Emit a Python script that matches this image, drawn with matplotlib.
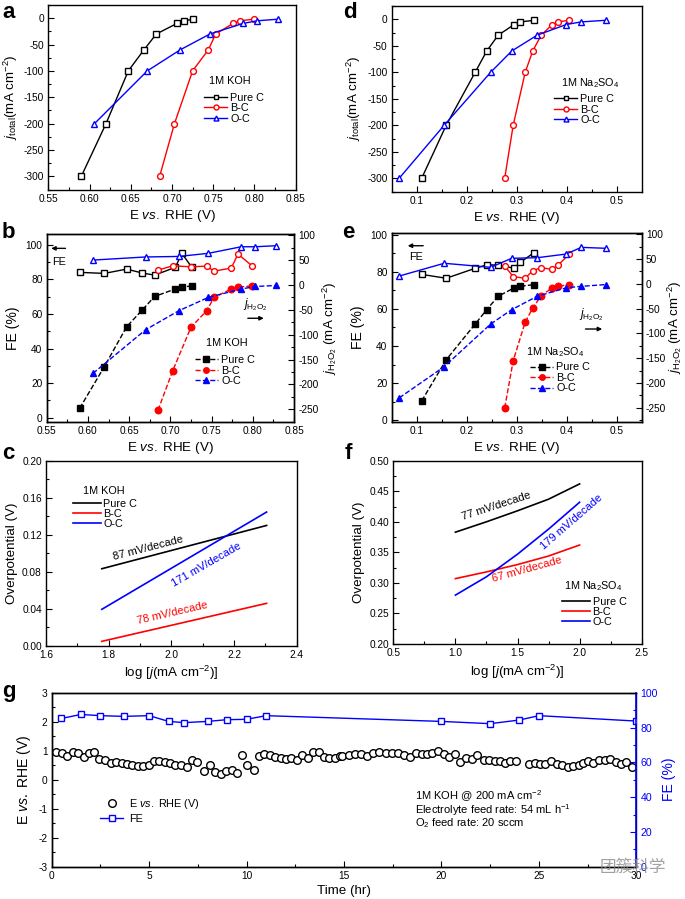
import numpy as np
import matplotlib
matplotlib.use("Agg")
import matplotlib.pyplot as plt
from matplotlib.ticker import MultipleLocator, FormatStrFormatter
from matplotlib.lines import Line2D

plt.rcParams['font.family'] = ['Liberation Sans', 'DejaVu Sans']
plt.rcParams['mathtext.fontset'] = 'custom'
plt.rcParams['mathtext.rm'] = 'Liberation Sans'
plt.rcParams['mathtext.it'] = 'Liberation Sans:italic'
plt.rcParams['mathtext.bf'] = 'Liberation Sans:bold'
plt.rcParams['axes.unicode_minus'] = False
plt.rcParams['axes.linewidth'] = 1.0

# ---- 1M KOH polarisation / FE data (panels a, b) ----
koh_E_pure = [0.590, 0.620, 0.647, 0.666, 0.681, 0.706, 0.714, 0.726]
koh_E_b = [0.685, 0.703, 0.725, 0.744, 0.753, 0.774, 0.782, 0.799]
koh_E_o = [0.606, 0.670, 0.710, 0.746, 0.786, 0.803, 0.828]
koh_j_pure = [-300, -200, -100, -60, -30, -10, -5, -2]
koh_j_b = [-300, -200, -100, -60, -30, -10, -5, -2]
koh_j_o = [-200, -100, -60, -30, -10, -5, -2]
koh_fe_pure = [84.0, 83.4, 85.9, 83.6, 82.4, 86.9, 95.0, 86.9]
koh_fe_b = [85.3, 87.8, 87.2, 87.6, 84.7, 86.5, 94.6, 87.8]
koh_fe_o = [91.1, 92.9, 93.2, 95.0, 98.8, 98.8, 99.4]
koh_jh_pure = [-248, -164, -84, -50, -23, -8, -4, -2]
koh_jh_b = [-252, -172, -85, -52, -25, -8, -4, -2]
koh_jh_o = [-178, -90, -52, -25, -8, -3, -1]

# ---- 1M Na2SO4 data (panels d, e) ----
na_E_pure = [0.110, 0.159, 0.217, 0.240, 0.263, 0.295, 0.307, 0.335]
na_E_b = [0.276, 0.293, 0.317, 0.332, 0.349, 0.371, 0.383, 0.405]
na_E_o = [0.065, 0.155, 0.248, 0.290, 0.341, 0.399, 0.429, 0.478]
na_j_pure = [-300, -200, -100, -60, -30, -10, -5, -2]
na_j_b = [-300, -200, -100, -60, -30, -10, -5, -2]
na_j_o = [-300, -200, -100, -60, -30, -10, -5, -2]
na_fe_pure = [78.7, 76.6, 82.0, 83.8, 83.8, 82.0, 85.2, 90.5]
na_fe_b = [83.2, 77.5, 76.6, 80.7, 82.3, 81.4, 83.8, 89.5]
na_fe_o = [77.8, 84.7, 82.5, 87.4, 87.7, 89.7, 93.3, 92.8]
na_jh_pure = [-236, -153, -81, -52, -25, -8, -5, -1.4]
na_jh_b = [-250, -155, -77, -49, -24, -8, -5, -1.4]
na_jh_o = [-230, -167, -81, -52, -25, -8, -5, -1.4]

# ---- Tafel data (panels c, f) ----
koh_logj = [1.778, 2.304]
koh_eta_pure = [0.0832, 0.130]
koh_eta_b = [0.0047, 0.0458]
koh_eta_o = [0.0393, 0.1445]

na_logj = [1.0, 1.25, 1.5, 1.75, 2.0]
na_eta_pure = [0.383, 0.400, 0.418, 0.437, 0.462]
na_eta_b = [0.307, 0.318, 0.330, 0.344, 0.362]
na_eta_o = [0.280, 0.310, 0.347, 0.388, 0.432]

# ---- stability test (panel g) ----
t_E = [0.22, 0.51, 0.80, 1.08, 1.37, 1.64, 1.90, 2.19, 2.45, 2.76, 3.05, 3.32,
       3.60, 3.87, 4.14, 4.42, 4.67, 4.98, 5.26, 5.51, 5.79, 6.06, 6.34, 6.61,
       6.93, 7.19, 7.48, 7.84, 8.13, 8.39, 8.68, 8.94, 9.23, 9.52, 9.79, 10.03,
       10.36, 10.63, 10.91, 11.18, 11.47, 11.75, 12.02, 12.29, 12.57, 12.86,
       13.13, 13.41, 13.70, 13.97, 14.25, 14.52, 14.79,
       14.91, 15.26, 15.55, 15.87, 16.19, 16.50, 16.79, 17.13, 17.47, 17.76,
       18.07, 18.38, 18.67, 19.01, 19.28, 19.52, 19.81, 20.12, 20.38, 20.68,
       20.96, 21.28, 21.59, 21.84, 22.17, 22.46, 22.75, 23.02, 23.26, 23.53,
       23.84, 24.49, 24.78, 25.07, 25.32, 25.63, 25.92, 26.21, 26.48, 26.77,
       27.05, 27.25, 27.51, 27.80, 28.11, 28.40, 28.67, 28.94, 29.22, 29.45,
       29.76]
E_stab = [0.95, 0.92, 0.83, 0.97, 0.91, 0.80, 0.93, 0.94, 0.72, 0.67, 0.56, 0.60,
          0.57, 0.54, 0.51, 0.47, 0.46, 0.51, 0.64, 0.64, 0.60, 0.56, 0.49, 0.49,
          0.43, 0.68, 0.62, 0.31, 0.51, 0.28, 0.18, 0.31, 0.33, 0.24, 0.84, 0.51,
          0.33, 0.82, 0.87, 0.84, 0.79, 0.74, 0.70, 0.74, 0.67, 0.85,
          0.74, 0.94, 0.97, 0.79, 0.76, 0.76, 0.82,
          0.83, 0.85, 0.87, 0.87, 0.83, 0.93, 0.97, 0.91, 0.91, 0.91,
          0.84, 0.79, 0.91, 0.89, 0.89, 0.91, 0.99, 0.87, 0.77, 0.87,
          0.62, 0.74, 0.70, 0.85, 0.68, 0.68, 0.66, 0.66, 0.59, 0.66,
          0.66, 0.54, 0.59, 0.54, 0.54, 0.66, 0.54, 0.49, 0.45, 0.47,
          0.51, 0.56, 0.66, 0.56, 0.68, 0.68, 0.70, 0.62, 0.54, 0.62,
          0.45]
t_fe = [0.5, 1.5, 2.5, 3.7, 5.0, 6.0, 6.8, 8.0, 9.0, 10.0, 11.0, 20.0, 22.5, 24.0, 25.0, 30.0]
fe_stab = [85.2, 87.5, 86.8, 86.4, 86.8, 83.5, 82.8, 83.5, 84.5, 84.7, 86.8, 83.5, 82.2, 84.3, 86.8, 83.7]

labels = ['Pure C', 'B-C', 'O-C']
colors = ['black', 'red', 'blue']
markers = ['s', 'o', '^']

W, H = 685, 899
TICK_FS = 7.3
LAB_FS = 9.6
LEG_FS = 7.8
MS = 4.2


def box(l, r, t, b):
    return [l / W, 1 - b / H, (r - l) / W, (b - t) / H]


def style(ax, xmaj, xmin, ymaj, ymin, xfmt, yfmt):
    ax.xaxis.set_major_locator(MultipleLocator(xmaj))
    ax.xaxis.set_minor_locator(MultipleLocator(xmin))
    ax.yaxis.set_major_locator(MultipleLocator(ymaj))
    ax.yaxis.set_minor_locator(MultipleLocator(ymin))
    ax.xaxis.set_major_formatter(FormatStrFormatter(xfmt))
    ax.yaxis.set_major_formatter(FormatStrFormatter(yfmt))
    ax.tick_params(which='both', direction='in', labelsize=TICK_FS, width=0.8, pad=3)
    ax.tick_params(which='major', length=4)
    ax.tick_params(which='minor', length=2.5)


def small_legend(ax, handles, anchor):
    ax.legend(handles, labels, loc='upper left', bbox_to_anchor=anchor, frameon=False, fontsize=LEG_FS,
              handlelength=2.1, handletextpad=0.3, labelspacing=0.05, borderpad=0, borderaxespad=0,
              markerscale=0.85)


fig = plt.figure(figsize=(6.85, 8.99), dpi=100)

xlab = 'E $\\it{vs.}$ RHE (V)'
jlab = '$\\it{j}_{\\rm total}$(mA cm$^{-2}$)'
jhlab = '$\\it{j}_{\\rm H_2O_2}$ (mA cm$^{-2}$)'

# ---------------- a ----------------
ax = fig.add_axes(box(48.3, 295.7, 5, 189.5))
hs = []
for E, j, c, m in zip([koh_E_pure, koh_E_b, koh_E_o], [koh_j_pure, koh_j_b, koh_j_o], colors, markers):
    hs += ax.plot(E, j, color=c, marker=m, mfc='white', mec=c, ms=MS, lw=1)
ax.set_xlim(0.55, 0.85)
ax.set_ylim(-325, 25)
style(ax, 0.05, 0.025, 50, 25, '%.2f', '%d')
ax.set_xlabel(xlab, fontsize=LAB_FS, labelpad=3)
ax.set_ylabel(jlab, fontsize=LAB_FS, labelpad=3)
ax.text(0.734, 0.588, '1M KOH', transform=ax.transAxes, fontsize=LEG_FS, ha='center', va='center')
small_legend(ax, hs, (0.63, 0.525))

# ---------------- d ----------------
ax = fig.add_axes(box(391.7, 641.7, 6, 191.5))
hs = []
for E, j, c, m in zip([na_E_pure, na_E_b, na_E_o], [na_j_pure, na_j_b, na_j_o], colors, markers):
    hs += ax.plot(E, j, color=c, marker=m, mfc='white', mec=c, ms=MS, lw=1)
ax.set_xlim(0.05, 0.55)
ax.set_ylim(-325, 25)
style(ax, 0.1, 0.05, 50, 25, '%.1f', '%d')
ax.set_xlabel(xlab, fontsize=LAB_FS, labelpad=3)
ax.set_ylabel(jlab, fontsize=LAB_FS, labelpad=3)
ax.text(0.793, 0.587, '1M Na$_2$SO$_4$', transform=ax.transAxes, fontsize=LEG_FS, ha='center', va='center')
small_legend(ax, hs, (0.65, 0.525))


def fe_panel(rect, Es, fes, jhs, xlim, ylim_l, ylim_r, xmaj, xmin, xfmt, salt, pos, rpad):
    ax = fig.add_axes(rect)
    ax2 = ax.twinx()
    for E, fe, jh, c, m in zip(Es, fes, jhs, colors, markers):
        ax.plot(E, fe, color=c, marker=m, mfc='white', mec=c, ms=MS, lw=1)
        ax2.plot(E, jh, color=c, marker=m, mfc=c, mec=c, ms=MS + 0.5, lw=1, ls='--')
    ax.set_xlim(*xlim)
    ax.set_ylim(*ylim_l)
    ax2.set_ylim(*ylim_r)
    style(ax, xmaj, xmin, 20, 10, xfmt, '%d')
    ax2.yaxis.set_major_locator(MultipleLocator(50))
    ax2.yaxis.set_minor_locator(MultipleLocator(25))
    ax2.tick_params(which='both', direction='in', labelsize=TICK_FS, width=0.8, pad=3)
    ax2.tick_params(which='major', length=4)
    ax2.tick_params(which='minor', length=2.5)
    ax.set_xlabel(xlab, fontsize=LAB_FS, labelpad=3)
    ax.set_ylabel('FE (%)', fontsize=LAB_FS + 0.5, labelpad=4)
    ax2.set_ylabel(jhlab, fontsize=LAB_FS, labelpad=rpad)
    fa = pos['fe_arrow']
    ax.annotate('', xy=(fa[1], fa[2]), xytext=(fa[0], fa[2]), xycoords='axes fraction',
                arrowprops=dict(arrowstyle='-|>', color='k', lw=1, mutation_scale=6))
    ax.text(*pos['fe_text'], 'FE', transform=ax.transAxes, fontsize=LEG_FS, ha='center', va='center')
    ja = pos['j_arrow']
    ax.annotate('', xy=(ja[1], ja[2]), xytext=(ja[0], ja[2]), xycoords='axes fraction',
                arrowprops=dict(arrowstyle='-|>', color='k', lw=1, mutation_scale=6))
    ax.text(*pos['j_text'], '$\\it{j}_{\\rm H_2O_2}$', transform=ax.transAxes, fontsize=LEG_FS + 0.7,
            ha='center', va='center')
    ax.text(*pos['salt'], salt, transform=ax.transAxes, fontsize=LEG_FS, ha='center', va='center')
    handles = [Line2D([], [], color=c, marker=m, mfc=c, mec=c, ms=MS + 0.5, lw=1, ls='--')
               for c, m in zip(colors, markers)]
    small_legend(ax, handles, pos['leg'])
    return ax


# ---------------- b ----------------
fe_panel(box(46.7, 294, 234.3, 421.7), [koh_E_pure, koh_E_b, koh_E_o],
         [koh_fe_pure, koh_fe_b, koh_fe_o], [koh_jh_pure, koh_jh_b, koh_jh_o],
         (0.55, 0.85), (-2.3, 106), (-275, 102), 0.05, 0.025, '%.2f', '1M KOH',
         dict(fe_arrow=(0.087, 0.007, 0.925), fe_text=(0.05, 0.853),
              j_arrow=(0.802, 0.889, 0.552), j_text=(0.842, 0.622),
              salt=(0.728, 0.418), leg=(0.60, 0.355)), 1)

# ---------------- e ----------------
fe_panel(box(391.7, 641.7, 233.3, 421.7), [na_E_pure, na_E_b, na_E_o],
         [na_fe_pure, na_fe_b, na_fe_o], [na_jh_pure, na_jh_b, na_jh_o],
         (0.05, 0.55), (-0.9, 100.9), (-278, 102), 0.1, 0.05, '%.1f', '1M Na$_2$SO$_4$',
         dict(fe_arrow=(0.137, 0.053, 0.934), fe_text=(0.097, 0.876),
              j_arrow=(0.764, 0.853, 0.492), j_text=(0.80, 0.566),
              salt=(0.653, 0.368), leg=(0.555, 0.315)), -0.5)

# ---------------- c ----------------
ax = fig.add_axes(box(46, 296.7, 460.7, 645.7))
hs = []
for y, c in zip([koh_eta_pure, koh_eta_b, koh_eta_o], colors):
    hs += ax.plot(koh_logj, y, color=c, lw=1.2)
ax.set_xlim(1.6, 2.4)
ax.set_ylim(0, 0.2)
style(ax, 0.2, 0.1, 0.04, 0.02, '%.1f', '%.2f')
ax.set_xlabel('log [$\\it{j}$(mA cm$^{-2}$)]', fontsize=LAB_FS, labelpad=3)
ax.set_ylabel('Overpotential (V)', fontsize=LAB_FS, labelpad=3)
ax.text(0.229, 0.838, '1M KOH', transform=ax.transAxes, fontsize=LEG_FS, ha='center', va='center')
ax.legend(hs, labels, loc='upper left', bbox_to_anchor=(0.108, 0.795), frameon=False, fontsize=LEG_FS,
          handlelength=2.6, handletextpad=0.2, labelspacing=0.0, borderpad=0, borderaxespad=0)
ax.text(1.927, 0.106, '87 mV/decade', color='black', fontsize=8, rotation=14.5, ha='center', va='center')
ax.text(2.113, 0.0872, '171 mV/decade', color='blue', fontsize=8, rotation=30, ha='center', va='center')
ax.text(2.004, 0.035, '78 mV/decade', color='red', fontsize=8, rotation=13, ha='center', va='center')

# ---------------- f ----------------
ax = fig.add_axes(box(393.3, 641.7, 460.7, 644))
hs = []
for y, c in zip([na_eta_pure, na_eta_b, na_eta_o], colors):
    hs += ax.plot(na_logj, y, color=c, lw=1.2)
ax.set_xlim(0.5, 2.5)
ax.set_ylim(0.2, 0.5)
style(ax, 0.5, 0.25, 0.05, 0.025, '%.1f', '%.2f')
ax.set_xlabel('log [$\\it{j}$(mA cm$^{-2}$)]', fontsize=LAB_FS, labelpad=3)
ax.set_ylabel('Overpotential (V)', fontsize=LAB_FS, labelpad=3)
ax.text(0.805, 0.316, '1M Na$_2$SO$_4$', transform=ax.transAxes, fontsize=LEG_FS, ha='center', va='center')
ax.legend(hs, labels, loc='upper left', bbox_to_anchor=(0.68, 0.255), frameon=False, fontsize=LEG_FS,
          handlelength=2.6, handletextpad=0.2, labelspacing=0.0, borderpad=0, borderaxespad=0)
ax.text(1.332, 0.4264, '77 mV/decade', color='black', fontsize=8, rotation=18, ha='center', va='center')
ax.text(1.936, 0.400, '179 mV/decade', color='blue', fontsize=8, rotation=41, ha='center', va='center')
ax.text(1.579, 0.322, '67 mV/decade', color='red', fontsize=8, rotation=15.5, ha='center', va='center')

# ---------------- g ----------------
ax = fig.add_axes(box(51.7, 636.3, 692.7, 866.7))
ax2 = ax.twinx()
ax.plot(t_E, E_stab, ls='none', marker='o', mfc='white', mec='black', ms=5.5, mew=1.0)
ax2.plot(t_fe, fe_stab, color='blue', marker='s', mfc='white', mec='blue', ms=5, lw=1)
ax.set_xlim(0, 30)
ax.set_ylim(-3, 3)
ax2.set_ylim(0, 100)
style(ax, 5, 2.5, 1, 0.5, '%d', '%d')
ax2.yaxis.set_major_locator(MultipleLocator(20))
ax2.yaxis.set_minor_locator(MultipleLocator(10))
ax2.tick_params(which='both', direction='in', labelsize=TICK_FS + 0.3, width=0.8, colors='blue', pad=3)
ax2.tick_params(which='major', length=4)
ax2.tick_params(which='minor', length=2.5)
ax2.spines['right'].set_color('blue')
ax2.spines['right'].set_linewidth(1.2)
ax.set_xlabel('Time (hr)', fontsize=LAB_FS, labelpad=3)
ax.set_ylabel('E $\\it{vs.}$ RHE (V)', fontsize=LAB_FS + 0.5, labelpad=4)
ax2.set_ylabel('FE (%)', fontsize=LAB_FS + 0.5, color='blue', labelpad=3)
handles = [Line2D([], [], ls='none', marker='o', mfc='white', mec='black', ms=5.5),
           Line2D([], [], color='blue', marker='s', mfc='white', mec='blue', ms=5, lw=1)]
ax.legend(handles, ['E $\\it{vs.}$ RHE (V)', 'FE'], loc='upper left', bbox_to_anchor=(0.082, 0.40),
          frameon=False, fontsize=LEG_FS, handlelength=2.2, handletextpad=0.5, labelspacing=0.25,
          borderpad=0, borderaxespad=0)
ax.text(0.621, 0.405, '1M KOH @ 200 mA cm$^{-2}$', transform=ax.transAxes, fontsize=8, va='center')
ax.text(0.621, 0.325, 'Electrolyte feed rate: 54 mL h$^{-1}$', transform=ax.transAxes, fontsize=8, va='center')
ax.text(0.621, 0.248, 'O$_2$ feed rate: 20 sccm', transform=ax.transAxes, fontsize=8, va='center')

# watermark
fig.text(600 / W, 1 - 867 / H, '团簇科学', family=['Noto Sans CJK SC', 'DejaVu Sans'],
         fontsize=12, color='#8a8a8a', alpha=0.8, va='center', ha='left')

# panel letters
for x, y, s in [(2, 18, 'a'), (343, 18, 'd'), (2, 238, 'b'), (342, 238, 'e'),
                (2, 459, 'c'), (345, 459, 'f'), (2, 697, 'g')]:
    fig.text(x / W, 1 - y / H, s, fontsize=16, fontweight='bold', va='baseline', ha='left')

fig.savefig('out.png', dpi=100)
